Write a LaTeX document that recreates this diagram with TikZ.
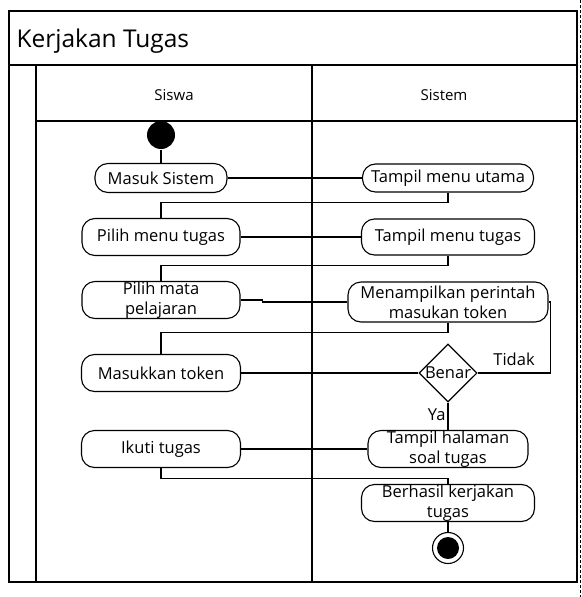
\documentclass[tikz,border=0pt]{standalone}
\usepackage{fontspec}
\setmainfont{Open Sans}
\usepackage{tikz}
\usetikzlibrary{shapes.geometric, arrows}
\tikzstyle{activity} = [draw, rectangle, rounded corners=13pt, minimum width=158pt, minimum height=37pt, inner sep=0pt, align=center, font=\fontsize{16.5}{20}\selectfont]
\tikzstyle{decision} = [draw, diamond, minimum width=58pt, minimum height=55pt, inner sep=0pt, font=\fontsize{16.5}{20}\selectfont]
\tikzstyle{startnode} = [circle, fill=black, minimum size=28pt, inner sep=0pt]
\tikzstyle{stopnode} = [circle, draw, minimum size=31pt, inner sep=0pt, path picture={\fill (path picture bounding box.center) circle (11pt);}]

\begin{document}
\begin{tikzpicture}[x=1pt, y=-1pt, node distance=60pt, line width=1.1pt]
    \useasboundingbox (0,0) rectangle (581,597);

    % bingkai dan lajur
    \draw (9,11) rectangle (577,582);
    \draw (9,65) -- (577,65);
    \draw (36,121) -- (577,121);
    \draw (36,65) -- (36,582);
    \draw (312,65) -- (312,582);
    \draw [densely dashed, line width=0.8pt] (580,0) -- (580,597);
    \node [anchor=base west, inner sep=0pt, font=\fontsize{24.5}{28}\selectfont] (judul) at (16,47) {Kerjakan Tugas};
    \node [anchor=base, font=\fontsize{15}{18}\selectfont] (siswa) at (174,100) {Siswa};
    \node [anchor=base, font=\fontsize{15}{18}\selectfont] (sistem) at (444,100) {Sistem};

    % lajur siswa
    \node [startnode] (mulai) at (161,135) {};
    \node [activity, below of=mulai, node distance=43pt, minimum width=132pt, minimum height=29pt] (masuk) {Masuk Sistem};
    \node [activity, below of=masuk, node distance=59pt] (pilihmenu) {Pilih menu tugas};
    \node [activity, below of=pilihmenu, node distance=63pt] (pilihmapel) {Pilih mata\\pelajaran};
    \node [activity, below of=pilihmapel, node distance=73pt, minimum width=159pt] (token) {Masukkan token};
    \node [activity, below of=token, node distance=76pt, minimum width=159pt] (ikuti) {Ikuti tugas};

    % lajur sistem
    \node [activity, right of=masuk, node distance=287pt, minimum width=171pt, minimum height=28pt] (menuutama) {Tampil menu utama};
    \node [activity, right of=pilihmenu, node distance=287pt, minimum width=173pt, minimum height=36pt] (menutugas) {Tampil menu tugas};
    \node [activity, right of=pilihmapel, node distance=287pt, yshift=-2pt, minimum width=200pt, minimum height=40pt] (perintah) {Menampilkan perintah\\masukan token};
    \node [decision, right of=token, node distance=287pt] (benar) {Benar};
    \node [activity, right of=ikuti, node distance=287pt, minimum width=160pt] (soal) {Tampil halaman\\soal tugas};
    \node [activity, below of=soal, node distance=54pt, minimum width=173pt] (berhasil) {Berhasil kerjakan\\tugas};
    \node [stopnode, below of=berhasil, node distance=45pt] (selesai) {};

    \draw (mulai) -- (masuk);
    \draw (masuk) -- (menuutama);
    \draw (menuutama.south) -- ++(0,10) -| (pilihmenu.north);
    \draw (pilihmenu) -- (menutugas);
    \draw (menutugas.south) -- ++(0,10) -| (pilihmapel.north);
    \draw (pilihmapel.east) -- ++(22,0) |- (perintah.west);
    \draw (perintah.south) -- ++(0,10) -| (token.north);
    \draw (token) -- (benar);
    \draw (benar.east) -- node[above=3pt, font=\fontsize{16.5}{20}\selectfont] {Tidak} ++(73,0) |- (perintah.east);
    \draw (benar.south) -- node[left, pos=0.45, inner sep=2pt, font=\fontsize{16.5}{20}\selectfont] {Ya} (soal.north);
    \draw (ikuti) -- (soal);
    \draw (ikuti.south) -- ++(0,10) -| (berhasil.north);
    \draw (berhasil) -- (selesai);
\end{tikzpicture}
\end{document}
